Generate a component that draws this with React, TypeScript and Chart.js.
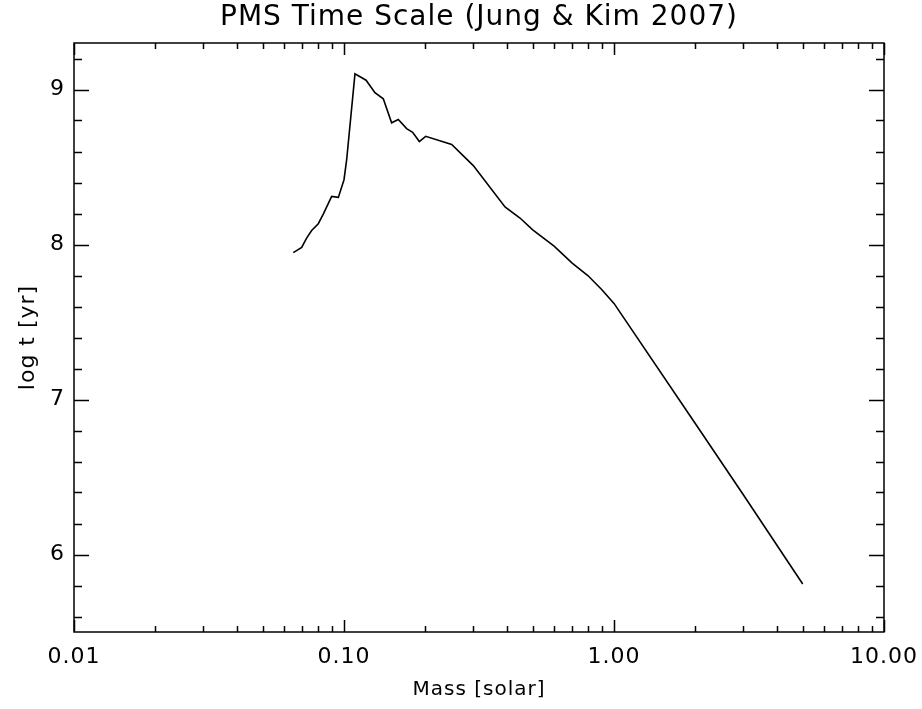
import { useEffect, useRef } from "react";
import { Chart, registerables } from "chart.js";

Chart.register(...registerables);

// Stellar mass [solar] and pre-main-sequence time scale log t [yr]
const masses = [
  0.0649, 0.0697, 0.0727, 0.0759, 0.0803, 0.0838, 0.09, 0.0953, 0.1, 0.1023,
  0.1098, 0.1207, 0.1302, 0.1398, 0.1501, 0.1589, 0.1706, 0.1796, 0.1901, 0.2007,
  0.2505, 0.3012, 0.3948, 0.4486, 0.5, 0.6, 0.7, 0.8, 0.9, 1.0, 2.0, 3.0, 5.0,
];
const logAges = [
  7.948, 7.981, 8.041, 8.09, 8.134, 8.196, 8.31, 8.304, 8.418, 8.547,
  9.101, 9.06, 8.979, 8.94, 8.785, 8.806, 8.748, 8.724, 8.664, 8.698,
  8.646, 8.509, 8.242, 8.171, 8.095, 7.99, 7.88, 7.8, 7.71, 7.62, 6.845, 6.39, 5.81,
];
const xTickValues = [0.01, 0.1, 1, 10];
const xTickLabels = ["0.01", "0.10", "1.00", "10.00"];
const yTickValues = [6, 7, 8, 9];
const yTickLabels = ["6", "7", "8", "9"];

const FONT = "'DejaVu Sans', 'Liberation Sans', sans-serif";

const spacing = {
  id: "spacing",
  beforeLayout(chart: any) {
    chart.ctx.letterSpacing = "1px";
  },
  beforeDraw(chart: any) {
    chart.ctx.letterSpacing = "1px";
  },
};

const idlAxes = {
  id: "idlAxes",
  afterDraw(chart: any) {
    const { ctx, chartArea: a, scales } = chart;
    const x = scales.x;
    const y = scales.y;
    ctx.save();
    ctx.strokeStyle = "#000";
    ctx.lineWidth = 1.5;
    ctx.strokeRect(a.left, a.top, a.right - a.left, a.bottom - a.top);
    ctx.beginPath();
    const d0 = Math.floor(Math.log10(x.min));
    const d1 = Math.ceil(Math.log10(x.max));
    for (let d = d0; d <= d1; d++) {
      for (let m = 1; m <= 9; m++) {
        const v = m * Math.pow(10, d);
        if (v < x.min * 0.999 || v > x.max * 1.001) continue;
        const px = Math.round(x.getPixelForValue(v)) + 0.5;
        const len = m === 1 ? 12 : 6;
        ctx.moveTo(px, a.bottom);
        ctx.lineTo(px, a.bottom - len);
        ctx.moveTo(px, a.top);
        ctx.lineTo(px, a.top + len);
      }
    }
    const i0 = Math.ceil(y.min * 5 - 1e-6);
    const i1 = Math.floor(y.max * 5 + 1e-6);
    for (let i = i0; i <= i1; i++) {
      const v = i / 5;
      const py = Math.round(y.getPixelForValue(v)) + 0.5;
      const len = i % 5 === 0 ? 15 : 8;
      ctx.moveTo(a.left, py);
      ctx.lineTo(a.left + len, py);
      ctx.moveTo(a.right, py);
      ctx.lineTo(a.right - len, py);
    }
    ctx.stroke();
    ctx.restore();
  },
};

export default function App() {
  const ref = useRef<HTMLCanvasElement | null>(null);

  useEffect(() => {
    if (!ref.current) return;
    const chart = new Chart(ref.current, {
      type: "line",
      data: {
        datasets: [
          {
            data: masses.map((m, i) => ({ x: m, y: logAges[i] })),
            borderColor: "#000",
            borderWidth: 1.6,
            pointRadius: 0,
            tension: 0,
            fill: false,
          },
        ],
      },
      options: {
        animation: false,
        responsive: false,
        layout: { padding: { left: 0, right: 38, top: 0, bottom: 0 } },
        plugins: {
          legend: { display: false },
          tooltip: { enabled: false },
          title: {
            display: true,
            fullSize: false,
            text: "PMS Time Scale (Jung & Kim 2007)",
            color: "#000",
            font: { family: FONT, size: 28, weight: "normal" },
            padding: { top: 1, bottom: 8.4 },
          },
        },
        scales: {
          x: {
            type: "logarithmic",
            min: 0.01,
            max: 10,
            afterBuildTicks: (s: any) => {
              s.ticks = xTickValues.map((v) => ({ value: v }));
            },
            afterFit: (s: any) => {
              s.height = 77;
              s.paddingLeft = 0;
              s.paddingRight = 0;
            },
            ticks: {
              autoSkip: false,
              maxRotation: 0,
              color: "#000",
              padding: 12,
              font: { family: FONT, size: 22 },
              callback: (_v: any, i: number) => xTickLabels[i],
            },
            grid: { display: false, drawTicks: false },
            border: { display: false },
            title: {
              display: true,
              text: "Mass [solar]",
              color: "#000",
              font: { family: FONT, size: 20 },
              padding: { top: 0, bottom: 7 },
            },
          },
          y: {
            type: "linear",
            min: 5.5,
            max: 9.3,
            afterBuildTicks: (s: any) => {
              s.ticks = yTickValues.map((v) => ({ value: v }));
            },
            afterFit: (s: any) => {
              s.width = 74;
              s.paddingTop = 0;
              s.paddingBottom = 0;
            },
            ticks: {
              autoSkip: false,
              color: "#000",
              padding: 9,
              font: { family: FONT, size: 22 },
              callback: (_v: any, i: number) => yTickLabels[i],
            },
            grid: { display: false, drawTicks: false },
            border: { display: false },
            title: {
              display: true,
              text: "log t [yr]",
              color: "#000",
              font: { family: FONT, size: 22 },
              padding: { top: 14.8, bottom: 0 },
            },
          },
        },
      } as any,
      plugins: [spacing, idlAxes],
    });
    return () => chart.destroy();
  }, []);

  return (
    <div style={{ position: "absolute", left: 0, top: 0, width: 922, height: 709, background: "#fff" }}>
      <canvas ref={ref} width={922} height={709} style={{ display: "block" }} />
    </div>
  );
}
